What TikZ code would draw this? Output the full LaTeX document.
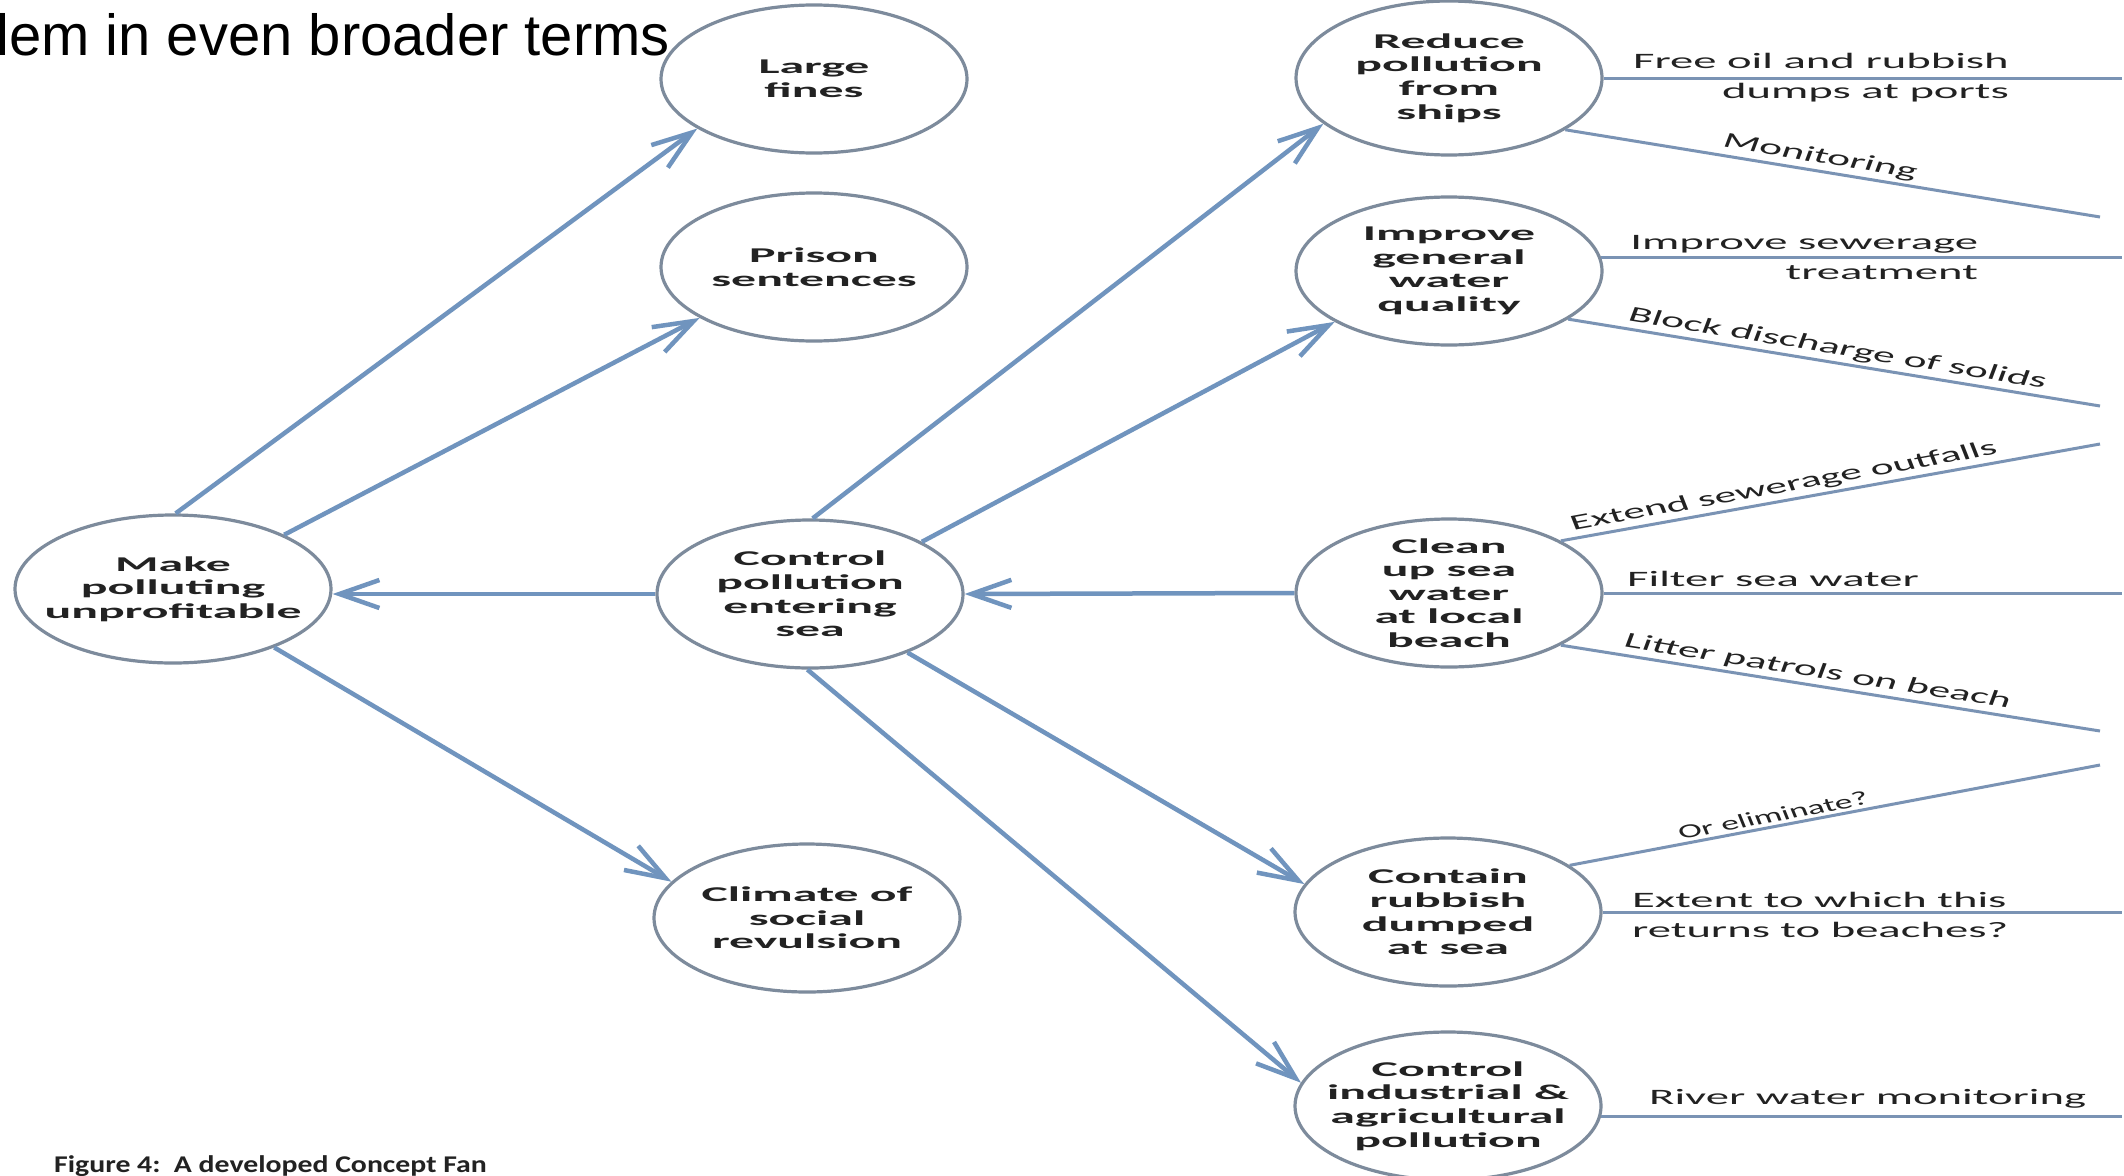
\documentclass[tikz,border=0pt]{standalone}
\usepackage{fontspec}
\usetikzlibrary{shapes.geometric,arrows.meta}
\setmainfont{Liberation Sans}
\newfontfamily\dfont[FakeStretch=2.37]{Carlito}
\newfontfamily\bfont[FakeStretch=2.12]{Carlito}
\newfontfamily\dfontdn[FakeStretch=1.95,FakeSlant=0.2]{Carlito}
\newfontfamily\dfontup[FakeStretch=1.95,FakeSlant=-0.2]{Carlito}
\newfontfamily\dfontor[FakeStretch=1.75,FakeSlant=-0.2]{Carlito}
\newfontfamily\capfont[FakeStretch=1.24]{Carlito}
\definecolor{ellc}{HTML}{7D8B9C}
\definecolor{arrc}{HTML}{7094BE}
\definecolor{brc}{HTML}{7A93B4}
\definecolor{txtc}{HTML}{222222}
\begin{document}
\begin{tikzpicture}[x=1pt,y=-1pt,
  ell/.style={ellipse, draw=ellc, line width=3.2pt, fill=white,
    minimum width=306pt, minimum height=148pt, inner sep=0pt},
  etext/.style={font={\dfont\bfseries\fontsize{21}{23.6}\selectfont},
    align=center, text=txtc, inner sep=0pt},
  btext/.style={font={\bfont\fontsize{22}{30}\selectfont}, text=txtc, inner sep=0pt},
  bdn/.style={font={\dfontdn\fontsize{22}{24}\selectfont}, text=txtc, inner sep=3pt},
  bup/.style={font={\dfontup\fontsize{22}{24}\selectfont}, text=txtc, inner sep=3pt},
  arr/.style={draw=arrc, line width=4.5pt,
    -{Straight Barb[length=40pt,width=28pt]}},
  br/.style={draw=brc, line width=3pt}
]
\useasboundingbox (0,0) rectangle (2124,1175);
\fill[white] (0,0) rectangle (2124,1175);

% title and caption
\node[anchor=base west, inner sep=0pt, font=\fontsize{58}{62}\selectfont] (title) at (-4,55) {lem in even broader terms};
\node[anchor=base west, inner sep=0pt, text=txtc,
  font={\capfont\bfseries\fontsize{24}{26}\selectfont}] (caption) at (54,1172) {Figure 4:\ \ A developed Concept Fan};

% ellipses
\node[ell] (large) at (814,79) {};
\node[etext] (large-t) at (large) {Large\\fines};
\node[ell] (prison) at (814,267) {};
\node[etext] (prison-t) at (prison) {Prison\\sentences};
\node[ell, minimum width=316pt] (make) at (173,589) {};
\node[etext] (make-t) at (make) {Make\\polluting\\unprofitable};
\node[ell] (control) at (810,594) {};
\node[etext] (control-t) at (control) {Control\\pollution\\entering\\sea};
\node[ell] (climate) at (807,918) {};
\node[etext] (climate-t) at (climate) {Climate of\\social\\revulsion};
\node[ell, minimum height=154pt] (reduce) at (1449,78) {};
\node[etext] (reduce-t) at (reduce) {Reduce\\pollution\\from\\ships};
\node[ell] (improve) at (1449,271) {};
\node[etext] (improve-t) at (improve) {Improve\\general\\water\\quality};
\node[ell] (clean) at (1449,593) {};
\node[etext] (clean-t) at (clean) {Clean\\up sea\\water\\at local\\beach};
\node[ell] (contain) at (1448,912) {};
\node[etext] (contain-t) at (contain) {Contain\\rubbish\\dumped\\at sea};
\node[ell] (ctrlind) at (1448,1106) {};
\node[etext] (ctrlind-t) at (ctrlind) {Control\\industrial \&\\agricultural\\pollution};

% arrows
\draw[arr] (make.88) -- (large.203);
\draw[arr] (make.26) -- (prison.204);
\draw[arr] (make.-30) -- (climate.165);
\draw[arr] (control.west) -- (control.west -| make.east);
\draw[arr] (control.88) -- (reduce.200);
\draw[arr] (control.25) -- (improve.204);
\draw[arr] (clean.west) -- (control.east);
\draw[arr] (control.-31) -- (contain.169);
\draw[arr] (control.-92) -- (ctrlind.171);

% branch ends
\coordinate (Rx) at (2122,0);
\coordinate (e1) at (2100,217);
\coordinate (e2) at (2100,406);
\coordinate (e3) at (2100,444);
\coordinate (e4) at (2100,731);
\coordinate (e5) at (2100,765);

% branches
\draw[br] (reduce.east) -- (reduce.east -| Rx);
\draw[br] (reduce.-24) -- node[bdn, sloped, above, pos=0.47] (l-mon) {Monitoring} (e1);
\draw[br] (improve.5) -- (improve.5 -| Rx);
\draw[br] (improve.-22) -- node[bdn, sloped, above, pos=0.5] (l-block) {Block discharge of solids} (e2);
\draw[br] (clean.25) -- node[bup, sloped, above, pos=0.42] (l-ext) {Extend sewerage outfalls} (e3);
\draw[br] (clean.east) -- (clean.east -| Rx);
\draw[br] (clean.-25) -- node[bdn, sloped, above, pos=0.47] (l-lit) {Litter patrols on beach} (e4);
\draw[br] (contain.21) -- node[bup, sloped, above, pos=0.39, font={\dfontor\fontsize{20}{22}\selectfont}] (l-or) {Or eliminate?} (e5);
\draw[br] (contain.east) -- (contain.east -| Rx);
\draw[br] (ctrlind.-4) -- (ctrlind.-4 -| Rx);

% horizontal branch labels
\node[btext, align=right, anchor=east] (l-free) at (2009,78) {Free oil and rubbish\\dumps at ports};
\node[btext, align=right, anchor=east] (l-imp) at (1978,258) {Improve sewerage\\treatment};
\node[btext, anchor=base west] (l-filter) at (1627,586) {Filter sea water};
\node[btext, align=left, anchor=west] (l-extent) at (1632,915) {Extent to which this\\returns to beaches?};
\node[btext, anchor=base west] (l-river) at (1649,1104) {River water monitoring};
\end{tikzpicture}
\end{document}
